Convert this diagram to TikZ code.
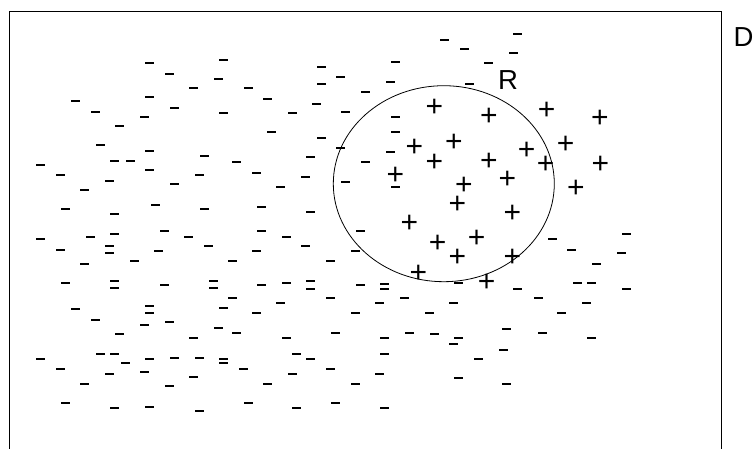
\documentclass[tikz,border=0pt]{standalone}
\usepackage{fontspec}
\setmainfont{Liberation Sans}
\usetikzlibrary{shapes.geometric}

\begin{document}
\begin{tikzpicture}[x=1pt,y=-1pt]
  \tikzstyle{negmark}=[fill=black,inner sep=0pt,minimum width=9pt,minimum height=2pt]
  \tikzstyle{posmark}=[inner sep=0pt,anchor=base,yshift=-10.6pt,font=\fontsize{30}{30}\selectfont]
  \tikzstyle{setlabel}=[inner sep=0pt,anchor=base west,font=\fontsize{27.5}{27.5}\selectfont]
  \useasboundingbox (0,0) rectangle (756,448);
  % sample space D
  \draw[line width=1pt] (9.5,11.7) rectangle (721,460);
  \node[setlabel] (dlabel) at (733.5,46) {D};
  % region R
  \node[draw,ellipse,line width=0.8pt,inner sep=0pt,minimum width=221pt,minimum height=196pt] (region) at (443.8,183.7) {};
  \node[setlabel] (rlabel) at (498,89.5) {R};
  % negative examples
  \foreach \x/\y [count=\i] in {149.3/63.3, 223.3/60.3, 169.3/74.3, 218.3/79.3, 193.3/88.3, 248.3/88.3, 75.3/101.3,
      149.3/97.3, 95.3/112.3, 174.3/108.3, 144.3/117.3, 223.3/113.3, 119.3/126.3, 100.3/145.3,
      444.3/40.3, 464.3/49.3, 517.3/34.3, 513.3/53.3, 488.3/63.3, 395.3/62.3, 321.3/67.3, 340.3/77.3,
      321.3/84.3, 390.3/82.3, 469.3/84.3, 267.3/99.3, 365.3/92.3, 316.3/104.3, 292.3/113.3, 345.3/112.3,
      395.3/117.3, 271.3/132.3, 321.3/138.3, 395.3/132.3, 340.3/148.3,
      149.3/151.3, 204.3/156.3, 40.3/165.3, 114.3/161.3, 130.3/161.3, 236.3/162.3, 60.3/175.3, 149.3/170.3,
      199.3/175.3, 256.3/173.3, 109.3/181.3, 174.3/184.3, 84.3/190.3, 155.3/205.3, 65.3/209.3, 204.3/209.3,
      114.3/214.3, 261.3/207.3, 164.3/231.3, 261.3/230.7, 40.3/239.3, 90.3/237.3, 114.3/234.3, 188.3/237.3,
      109.3/246.3, 109.3/253.3, 60.3/250.3, 158.3/251.3, 208.3/246.3, 256.3/251.3, 134.3/261.3, 84.3/264.3,
      232.3/261.3, 65.3/283.3, 114.3/281.3, 114.3/288.3, 164.3/285.3, 213.3/281.3, 213.3/288.3, 261.3/285.3,
      310.3/157, 390.3/152.3, 365.3/162.3, 305.3/177.3, 280.3/187.3, 345.3/182.3, 395.3/187.3, 310.3/212.3,
      286.3/237.3, 305.3/246.3, 360.3/230.7, 355.3/250.7, 330.3/260.7, 286.3/283.3, 310.3/281, 310.3/289,
      360.3/285.3, 384.3/283.5, 384.3/288.5, 458.3/283.3,
      552.3/239.3, 571.3/250.3, 626.3/234.3, 621.3/253.3, 596.3/264.3, 577.3/283.3, 591.3/283.3, 517.3/288.5,
      626.3/288.5,
      232.3/298.3, 75.3/309.3, 149.3/306.3, 149.3/313.3, 223.3/308.3, 256.3/313.3, 95.3/320.3, 144.3/325.3,
      169.3/322.3, 218.3/328.3, 236.3/333.3, 119.3/334.3, 193.3/338.3, 100.3/354.3, 114.3/354.3, 40.3/359.3,
      125.3/363.3, 149.3/359.3, 174.3/358.3, 199.3/358.3, 223.3/359.3, 223.3/363.3, 60.3/369.3, 243.3/369.3,
      109.3/374.3, 144.3/372.3, 193.3/377.3, 84.3/384.3, 169.3/386.3, 65.3/403.3, 248.3/403.3, 114.3/408.3,
      149.3/407.3, 199.3/411.3,
      330.3/298.3, 280.3/303.3, 379.3/303.3, 404.3/298.3, 453.3/303.3, 355.3/313.3, 429.3/313.3, 335.3/333.3,
      286.3/338.3, 384.3/338.3, 409.3/333.3, 434.3/334.3, 458.3/338.3, 453.3/344.3, 506.3/329.3, 503.3/350.3,
      478.3/359.3, 296.3/354.3, 310.3/359.3, 384.3/354.3, 330.3/369.3, 292.3/374.3, 379.3/374.3, 458.3/378.3,
      267.3/384.3, 355.3/384.3, 506.3/384.3, 296.3/408.3, 335.3/403.3, 384.3/408.3,
      538.3/298.3, 586.3/303.3, 561.3/313.3, 542.3/333.3, 591.3/338.3}
    \node[negmark] (neg\i) at (\x,\y) {};
  % positive examples
  \foreach \x/\y [count=\i] in {434.3/106, 489/115.3, 546.7/109.3, 600/117.3, 414.3/146, 454/141, 526.7/149,
      565.7/142.5, 434.3/160.7, 489/160, 545.7/163.3, 600.3/162.7, 395.3/174, 507.3/178.3, 464/184.3,
      576/187.3, 457.3/202.7, 512.3/211.7, 409.3/221.7, 476.7/236.7, 437.7/241.7, 457.3/256, 512.3/256,
      418.3/271.7, 486.7/280.7}
    \node[posmark] (pos\i) at (\x,\y) {+};
\end{tikzpicture}
\end{document}
